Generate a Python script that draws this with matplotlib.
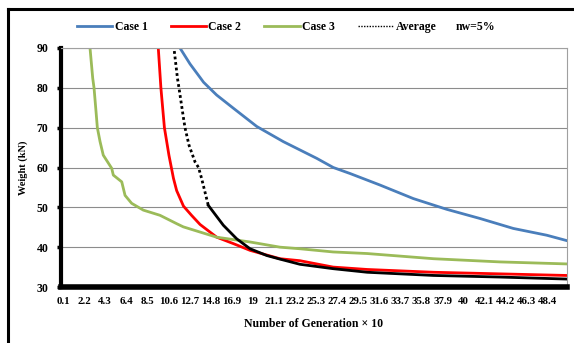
"""Weight convergence of the three cases against number of generations."""

import matplotlib.pyplot as plt
from matplotlib.lines import Line2D

# generation (x10) / weight (kN) points
case1_gen = [11.6, 11.75, 12.75, 13.75, 14.1, 15.4, 17.06, 19.4, 22.04, 25.37, 27.02,
             28.68, 31.67, 34.99, 38.32, 41.63, 44.95, 48.28, 50.2]
case1_w = [91.0, 90.0, 86.0, 82.6, 81.4, 78.2, 74.9, 70.3, 66.5, 62.3, 60.0,
           58.5, 55.6, 52.2, 49.5, 47.2, 44.7, 43.0, 41.7]

case2_gen = [9.5, 9.59, 9.85, 10.2, 10.65, 11.1, 11.42, 12.1, 12.9, 13.75, 15.41,
             17.06, 18.73, 21.71, 23.7, 27.0, 30.4, 37.0, 43.6, 50.2]
case2_w = [92.0, 90.0, 80.0, 70.0, 63.1, 57.3, 54.2, 50.3, 48.0, 45.7, 42.5,
           40.9, 39.2, 37.1, 36.6, 35.0, 34.4, 33.7, 33.3, 32.9]

case3_gen = [2.7, 2.79, 3.06, 3.19, 3.39, 3.52, 3.79, 4.11, 4.95, 5.11, 5.95, 6.28,
             6.94, 8.1, 9.76, 11.42, 12.08, 15.41, 18.73, 21.71, 23.7, 27.0, 30.4,
             37.0, 43.6, 50.2]
case3_w = [92.0, 90.0, 82.4, 80.0, 74.0, 70.0, 66.5, 63.1, 59.8, 58.1, 56.4, 53.0,
           51.0, 49.3, 48.0, 45.9, 45.1, 42.5, 41.3, 40.0, 39.6, 38.8, 38.4,
           37.1, 36.3, 35.8]

avg_dot_gen = [11.05, 11.15, 11.5, 11.65, 12.1, 12.25, 12.65, 13.25, 13.6, 13.9, 14.57]
avg_dot_w = [92.0, 90.0, 82.4, 80.0, 72.4, 70.0, 65.6, 61.4, 60.0, 57.3, 50.5]
avg_gen = [14.57, 16.07, 17.4, 18.73, 20.4, 21.71, 23.7, 27.0, 30.4, 37.0, 43.6, 50.2]
avg_w = [50.5, 45.5, 42.1, 39.6, 37.9, 37.0, 35.7, 34.6, 33.7, 32.9, 32.5, 32.0]

tick_labels = ["0.1", "2.2", "4.3", "6.4", "8.5", "10.6", "12.7", "14.8", "16.9",
               "19", "21.1", "23.2", "25.3", "27.4", "29.5", "31.6", "33.7",
               "35.8", "37.9", "40", "42.1", "44.2", "46.3", "48.4"]
tick_pos = [float(t) for t in tick_labels]

BLUE = "#4a7ebb"
RED = "#ff0000"
GREEN = "#9bbb59"

plt.rcParams["font.family"] = ["Liberation Serif", "DejaVu Serif"]
plt.rcParams["font.weight"] = "bold"

fig = plt.figure(figsize=(5.74, 3.43), dpi=100)
ax = fig.add_axes([61 / 574, 1 - 287 / 343, (567 - 61) / 574, (287 - 48) / 343])

ax.plot(case1_gen, case1_w, color=BLUE, lw=2.0)
ax.plot(case2_gen, case2_w, color=RED, lw=2.0)
ax.plot(case3_gen, case3_w, color=GREEN, lw=2.0)
ax.plot(avg_dot_gen, avg_dot_w, color="black", lw=2.0, ls=(0, (1, 1)))
ax.plot(avg_gen, avg_w, color="black", lw=2.0)

ax.set_xlim(-0.1, 50.3)
ax.set_ylim(30, 90)
ax.set_yticks(range(30, 91, 10))
ax.set_xticks(tick_pos)
ax.set_xticklabels(tick_labels, fontsize=7.8, fontweight="bold")
ax.tick_params(axis="x", length=0, pad=7)
ax.tick_params(axis="y", labelsize=8.5, length=3, width=2.5, direction="out", pad=6)
for lbl in ax.get_yticklabels():
    lbl.set_fontweight("bold")

ax.grid(axis="y", color="#8c8c8c", lw=0.8)
ax.set_axisbelow(True)
ax.spines["left"].set_linewidth(3)
ax.spines["bottom"].set_linewidth(4)
ax.spines["top"].set_color("#a0a0a0")
ax.spines["right"].set_color("#a0a0a0")
ax.spines["top"].set_linewidth(0.8)
ax.spines["right"].set_linewidth(0.8)

ax.set_ylabel("Weight (kN)", fontsize=7.5, fontweight="bold", labelpad=6)
ax.set_xlabel("Number of Generation \u00d7 10", fontsize=8.5, fontweight="bold", labelpad=9)

handles = [
    Line2D([], [], color=BLUE, lw=2),
    Line2D([], [], color=RED, lw=2),
    Line2D([], [], color=GREEN, lw=2),
    Line2D([], [], color="black", lw=1, ls=(0, (1, 1))),
]
fig.legend(handles, ["Case 1", "Case 2", "Case 3", "Average"], ncol=4,
           loc="center left", bbox_to_anchor=(77 / 574, 1 - 27 / 343),
           frameon=False, handlelength=3.0, handletextpad=0.2,
           columnspacing=1.95, borderpad=0, borderaxespad=0,
           prop={"weight": "bold", "size": 8.5})
fig.text(456 / 574, 1 - 27 / 343, "nw=5%", fontsize=8.5, fontweight="bold", va="center")

# outer frame (left and top edges visible)
fig.add_artist(Line2D([8 / 574, 8 / 574], [0, 1 - 9 / 343], color="black", lw=2.2))
fig.add_artist(Line2D([8 / 574, 1], [1 - 9 / 343, 1 - 9 / 343], color="black", lw=2.2))

fig.savefig("out.png", dpi=100)
